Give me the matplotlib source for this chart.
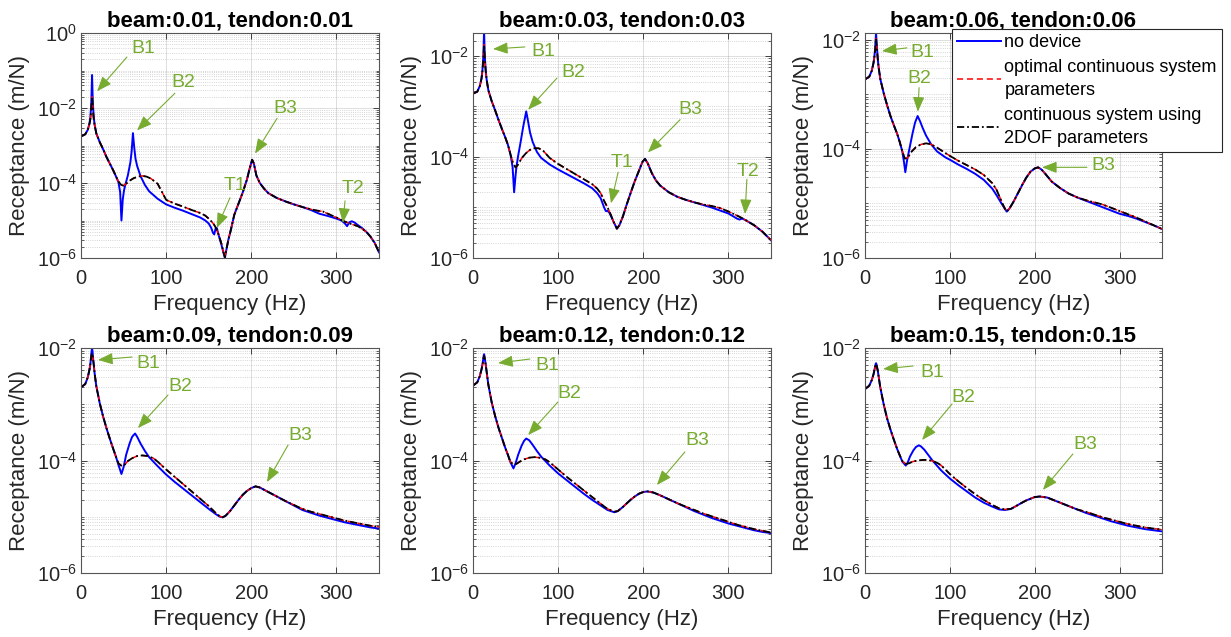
import numpy as np
import matplotlib
matplotlib.use('Agg')
import matplotlib.pyplot as plt
from matplotlib.ticker import FixedLocator, NullFormatter, LogFormatterSciNotation

plt.rcParams['font.family'] = ['Liberation Sans', 'DejaVu Sans']
plt.rcParams['mathtext.fontset'] = 'custom'
plt.rcParams['mathtext.rm'] = 'Liberation Sans'
plt.rcParams['mathtext.it'] = 'Liberation Sans:italic'
plt.rcParams['mathtext.bf'] = 'Liberation Sans:bold'

# ---------------- DATA (log10 of receptance, m/N) ----------------
titles = ['beam:0.01, tendon:0.01', 'beam:0.03, tendon:0.03', 'beam:0.06, tendon:0.06',
          'beam:0.09, tendon:0.09', 'beam:0.12, tendon:0.12', 'beam:0.15, tendon:0.15']
legend_labels = ['no device', 'optimal continuous system\nparameters',
                 'continuous system using\n2DOF parameters']

# Panel 1
p1_blue_f = [0, 5, 8, 10, 11, 12, 12.5, 13, 13.5, 14, 15, 16, 18, 22, 26, 30, 34, 38, 41, 44, 46, 47.5, 49,
             50.5, 52, 55, 58, 59.5, 61, 62.5, 64, 66, 70, 75, 80, 90, 100, 110, 120, 130, 140, 146, 150, 153,
             155, 156.5, 158, 159.5, 161, 163, 165, 167, 169, 171, 173, 176, 180, 185, 190, 195, 198, 201, 203,
             206, 210, 215, 220, 230, 240, 250, 260, 270, 280, 290, 300, 306, 310, 312.5, 315, 318, 321, 325,
             330, 335, 340, 345, 350]
p1_blue_log = [-2.76, -2.70, -2.58, -2.40, -2.25, -1.90, -1.55, -1.12, -1.55, -1.90, -2.25, -2.45, -2.68, -2.91,
               -3.10, -3.31, -3.49, -3.67, -3.82, -3.98, -4.25, -5.00, -4.45, -4.20, -4.05, -3.80, -3.45, -3.15,
               -2.67, -3.05, -3.35, -3.55, -3.82, -4.05, -4.22, -4.42, -4.57, -4.66, -4.74, -4.83, -4.92, -5.00,
               -5.08, -5.20, -5.33, -5.37, -5.22, -5.20, -5.33, -5.50, -5.65, -5.83, -6.00, -5.75, -5.52, -5.25,
               -4.85, -4.55, -4.25, -3.90, -3.62, -3.38, -3.48, -3.80, -4.00, -4.15, -4.27, -4.40, -4.49, -4.57,
               -4.64, -4.72, -4.82, -4.88, -4.95, -5.00, -5.08, -5.15, -5.05, -5.02, -5.05, -5.12, -5.20, -5.30,
               -5.43, -5.60, -5.85]
p1_dof_f = [0, 5, 8, 10, 11, 12, 12.5, 13, 13.5, 14, 15, 16, 18, 22, 26, 30, 34, 38, 41, 44, 47, 50, 53, 57, 62,
            67, 72, 77, 82, 90, 100, 110, 120, 130, 140, 146, 150, 153, 156, 159, 162, 165, 167, 169, 171, 173,
            176, 180, 185, 190, 195, 198, 201, 203, 206, 210, 215, 220, 230, 240, 250, 260, 270, 278, 284, 290,
            300, 310, 318, 325, 330, 335, 340, 345, 350]
p1_dof_log = [-2.76, -2.70, -2.58, -2.42, -2.30, -2.05, -1.85, -1.70, -1.85, -2.05, -2.30, -2.45, -2.68, -2.91,
              -3.10, -3.31, -3.49, -3.67, -3.82, -3.96, -4.05, -4.07, -4.02, -3.94, -3.87, -3.83, -3.81, -3.83,
              -3.88, -4.02, -4.45, -4.55, -4.63, -4.72, -4.80, -4.87, -4.95, -5.02, -5.10, -5.22, -5.40, -5.62,
              -5.82, -5.98, -5.75, -5.52, -5.25, -4.85, -4.55, -4.25, -3.90, -3.62, -3.38, -3.48, -3.80, -4.00,
              -4.15, -4.27, -4.40, -4.49, -4.57, -4.64, -4.70, -4.74, -4.76, -4.82, -4.92, -5.03, -5.10, -5.15,
              -5.22, -5.30, -5.43, -5.60, -5.85]

# Panel 2
p2_blue_f = [0, 5, 8, 10, 11, 12, 12.5, 13, 13.5, 14, 15, 16, 18, 22, 26, 30, 34, 38, 41, 44, 46.5, 48.3, 49.8,
             51, 53, 56, 59, 62.5, 64.5, 67, 70, 75, 80, 90, 100, 110, 120, 130, 140, 146, 150, 154, 156, 158,
             160, 162, 165, 169, 172, 176, 180, 185, 190, 195, 199, 202, 205, 210, 215, 220, 230, 240, 250, 260,
             270, 280, 290, 300, 306, 310, 313, 316, 320, 325, 330, 340, 350]
p2_blue_log = [-2.75, -2.71, -2.60, -2.45, -2.30, -2.05, -1.80, -1.50, -1.80, -2.05, -2.30, -2.47, -2.68, -2.90,
               -3.08, -3.27, -3.45, -3.62, -3.76, -3.95, -4.20, -4.70, -4.40, -4.20, -3.98, -3.70, -3.40, -3.10,
               -3.28, -3.52, -3.70, -3.90, -4.02, -4.15, -4.25, -4.34, -4.43, -4.52, -4.62, -4.72, -4.82, -5.00,
               -5.07, -5.07, -5.10, -5.17, -5.28, -5.42, -5.35, -5.18, -4.97, -4.72, -4.48, -4.27, -4.10, -4.04,
               -4.12, -4.32, -4.47, -4.57, -4.70, -4.79, -4.85, -4.90, -4.95, -5.00, -5.06, -5.12, -5.18, -5.22,
               -5.24, -5.22, -5.25, -5.30, -5.35, -5.48, -5.65]
p2_dof_f = [0, 5, 8, 10, 11, 12, 12.5, 13, 13.5, 14, 15, 16, 18, 22, 26, 30, 34, 38, 41, 44, 47, 50, 53, 57, 62,
            67, 72, 77, 82, 90, 100, 110, 120, 130, 140, 146, 150, 154, 158, 162, 165, 169, 172, 176, 180, 185,
            190, 195, 199, 202, 205, 210, 215, 220, 230, 240, 250, 260, 270, 280, 290, 300, 310, 316, 320, 325,
            330, 340, 350]
p2_dof_log = [-2.75, -2.71, -2.60, -2.45, -2.32, -2.10, -1.95, -1.78, -1.95, -2.10, -2.33, -2.47, -2.68, -2.90,
              -3.08, -3.27, -3.45, -3.62, -3.76, -3.95, -4.12, -4.21, -4.15, -4.03, -3.93, -3.86, -3.83, -3.83,
              -3.87, -4.02, -4.14, -4.24, -4.34, -4.44, -4.54, -4.63, -4.72, -4.87, -5.00, -5.15, -5.28, -5.42,
              -5.35, -5.18, -4.97, -4.72, -4.48, -4.27, -4.10, -4.04, -4.12, -4.32, -4.47, -4.57, -4.70, -4.79,
              -4.85, -4.90, -4.94, -4.97, -5.01, -5.08, -5.16, -5.21, -5.25, -5.30, -5.35, -5.48, -5.65]

# Panel 3
p3_blue_f = [0, 5, 8, 10, 11, 12, 12.5, 13, 13.5, 14, 15, 16, 18, 22, 26, 30, 34, 38, 41, 44, 46, 47.5, 49.5, 53,
             56, 59, 62, 65, 68, 72, 78, 85, 95, 100, 110, 120, 130, 140, 150, 155, 160, 164, 167, 170, 175, 180,
             185, 190, 195, 200, 204, 208, 212, 220, 230, 240, 250, 260, 270, 280, 290, 300, 310, 320, 330, 340,
             350]
p3_blue_log = [-2.73, -2.68, -2.57, -2.43, -2.32, -2.15, -2.00, -1.88, -2.00, -2.12, -2.35, -2.50, -2.72, -2.98,
               -3.20, -3.40, -3.57, -3.73, -3.88, -4.05, -4.25, -4.43, -4.22, -3.95, -3.72, -3.52, -3.40, -3.50,
               -3.62, -3.76, -3.92, -4.05, -4.16, -4.20, -4.29, -4.37, -4.46, -4.57, -4.73, -4.85, -4.98, -5.08,
               -5.15, -5.10, -4.97, -4.82, -4.67, -4.53, -4.42, -4.36, -4.34, -4.38, -4.45, -4.60, -4.72, -4.82,
               -4.89, -4.95, -5.01, -5.07, -5.13, -5.19, -5.23, -5.28, -5.34, -5.40, -5.47]
p3_dof_f = [0, 5, 8, 10, 11, 12, 12.5, 13, 13.5, 14, 15, 16, 18, 22, 26, 30, 34, 38, 41, 44, 47, 50, 55, 60, 66,
            72, 78, 85, 90, 100, 110, 120, 130, 140, 150, 155, 160, 164, 167, 170, 175, 180, 185, 190, 195, 200,
            204, 208, 212, 220, 230, 240, 250, 260, 270, 280, 290, 300, 310, 320, 330, 340, 350]
p3_dof_log = [-2.73, -2.68, -2.57, -2.43, -2.33, -2.18, -2.08, -1.98, -2.08, -2.16, -2.35, -2.50, -2.72, -2.98,
              -3.20, -3.40, -3.57, -3.73, -3.88, -4.05, -4.18, -4.17, -4.05, -3.97, -3.92, -3.90, -3.92, -3.98,
              -4.03, -4.13, -4.22, -4.30, -4.38, -4.48, -4.63, -4.75, -4.93, -5.07, -5.15, -5.10, -4.97, -4.82,
              -4.67, -4.53, -4.42, -4.36, -4.34, -4.38, -4.45, -4.60, -4.72, -4.82, -4.89, -4.94, -4.98, -5.02,
              -5.08, -5.14, -5.20, -5.26, -5.33, -5.40, -5.47]

# Panel 4
p4_blue_f = [0, 5, 8, 10, 11, 12, 12.5, 13, 13.5, 14, 15, 16, 18, 22, 26, 30, 34, 38, 41, 44, 47.5, 50, 53, 57,
             60, 63.5, 66, 70, 75, 80, 90, 100, 110, 120, 130, 140, 150, 158, 163, 166.5, 170, 175, 180, 185, 190,
             195, 200, 205, 210, 220, 230, 240, 250, 260, 270, 280, 290, 300, 310, 320, 330, 340, 350]
p4_blue_log = [-2.70, -2.64, -2.52, -2.38, -2.28, -2.12, -2.05, -2.01, -2.05, -2.15, -2.30, -2.45, -2.68, -2.98,
               -3.22, -3.43, -3.62, -3.80, -3.93, -4.08, -4.24, -4.12, -3.90, -3.70, -3.58, -3.52, -3.58, -3.70,
               -3.83, -3.94, -4.10, -4.25, -4.38, -4.50, -4.62, -4.74, -4.86, -4.95, -5.00, -5.01, -4.98, -4.90,
               -4.80, -4.70, -4.61, -4.54, -4.49, -4.46, -4.48, -4.56, -4.64, -4.72, -4.80, -4.88, -4.93, -4.98,
               -5.02, -5.06, -5.10, -5.13, -5.16, -5.19, -5.21]
p4_dof_f = [0, 5, 8, 10, 11, 12, 12.5, 13, 13.5, 14, 15, 16, 18, 22, 26, 30, 34, 38, 41, 44, 48, 51, 55, 60, 66,
            72, 78, 85, 90, 100, 110, 120, 130, 140, 150, 158, 163, 166.5, 170, 175, 180, 185, 190, 195, 200, 205,
            210, 220, 230, 240, 250, 260, 270, 280, 290, 300, 310, 320, 330, 340, 350]
p4_dof_log = [-2.70, -2.64, -2.52, -2.38, -2.29, -2.16, -2.12, -2.09, -2.12, -2.18, -2.30, -2.45, -2.68, -2.98,
              -3.22, -3.43, -3.62, -3.80, -3.93, -4.05, -4.10, -4.08, -4.01, -3.96, -3.92, -3.91, -3.92, -3.96,
              -4.02, -4.16, -4.29, -4.42, -4.55, -4.68, -4.81, -4.93, -4.99, -5.01, -4.98, -4.90, -4.80, -4.70,
              -4.61, -4.54, -4.49, -4.46, -4.48, -4.56, -4.64, -4.72, -4.79, -4.86, -4.91, -4.95, -4.99, -5.03,
              -5.07, -5.10, -5.13, -5.16, -5.18]

# Panel 5
p5_blue_f = [0, 5, 8, 10, 11, 12, 12.5, 13, 13.5, 14, 15, 16, 18, 22, 26, 30, 34, 38, 41, 44, 47.5, 50, 53, 57,
             60, 62.5, 66, 70, 75, 80, 90, 100, 110, 120, 130, 140, 150, 158, 166, 170, 175, 180, 185, 190, 195,
             200, 205, 212, 220, 230, 240, 250, 260, 270, 280, 290, 300, 310, 320, 330, 340, 350]
p5_blue_log = [-2.67, -2.61, -2.50, -2.38, -2.30, -2.20, -2.14, -2.11, -2.14, -2.20, -2.30, -2.42, -2.65, -2.97,
               -3.21, -3.42, -3.60, -3.78, -3.90, -4.03, -4.14, -4.05, -3.90, -3.74, -3.65, -3.61, -3.64, -3.72,
               -3.83, -3.93, -4.09, -4.23, -4.35, -4.47, -4.59, -4.70, -4.80, -4.88, -4.92, -4.90, -4.84, -4.77,
               -4.70, -4.64, -4.59, -4.56, -4.55, -4.57, -4.62, -4.69, -4.76, -4.83, -4.90, -4.96, -5.02, -5.07,
               -5.12, -5.16, -5.20, -5.24, -5.27, -5.29]
p5_dof_f = [0, 5, 8, 10, 11, 12, 12.5, 13, 13.5, 14, 15, 16, 18, 22, 26, 30, 34, 38, 41, 44, 48, 51, 55, 60, 66,
            72, 78, 85, 90, 100, 110, 120, 130, 140, 150, 158, 166, 170, 175, 180, 185, 190, 195, 200, 205, 212,
            220, 230, 240, 250, 260, 270, 280, 290, 300, 310, 320, 330, 340, 350]
p5_dof_log = [-2.67, -2.61, -2.50, -2.38, -2.31, -2.22, -2.17, -2.14, -2.17, -2.22, -2.30, -2.42, -2.65, -2.97,
              -3.21, -3.42, -3.60, -3.78, -3.90, -4.03, -4.07, -4.06, -4.02, -3.98, -3.95, -3.94, -3.95, -3.98,
              -4.03, -4.16, -4.29, -4.41, -4.53, -4.65, -4.77, -4.86, -4.91, -4.90, -4.84, -4.77, -4.70, -4.64,
              -4.59, -4.56, -4.55, -4.57, -4.62, -4.69, -4.76, -4.82, -4.88, -4.94, -4.99, -5.04, -5.09, -5.14,
              -5.18, -5.22, -5.25, -5.28]

# Panel 6
p6_blue_f = [0, 5, 8, 10, 11, 12, 12.5, 13, 13.5, 14, 15, 16, 18, 22, 26, 30, 34, 38, 41, 44, 48, 50, 53, 57, 60,
             63.5, 66, 70, 75, 80, 90, 100, 110, 120, 130, 140, 150, 158, 165, 172, 178, 185, 190, 195, 200, 206,
             215, 220, 230, 240, 250, 260, 270, 280, 290, 300, 310, 320, 330, 340, 350]
p6_blue_log = [-2.73, -2.67, -2.57, -2.47, -2.40, -2.32, -2.29, -2.27, -2.29, -2.32, -2.40, -2.50, -2.70, -3.00,
               -3.25, -3.45, -3.63, -3.80, -3.91, -4.02, -4.09, -4.05, -3.93, -3.82, -3.76, -3.73, -3.75, -3.81,
               -3.91, -4.01, -4.18, -4.32, -4.44, -4.55, -4.66, -4.75, -4.82, -4.87, -4.88, -4.86, -4.81, -4.75,
               -4.71, -4.68, -4.65, -4.64, -4.66, -4.69, -4.75, -4.81, -4.87, -4.93, -4.98, -5.03, -5.08, -5.12,
               -5.16, -5.19, -5.22, -5.24, -5.26]
p6_dof_f = [0, 5, 8, 10, 11, 12, 12.5, 13, 13.5, 14, 15, 16, 18, 22, 26, 30, 34, 38, 41, 44, 48, 52, 56, 62, 68,
            74, 80, 86, 90, 100, 110, 120, 130, 140, 150, 158, 165, 172, 178, 185, 190, 195, 200, 206, 215, 220,
            230, 240, 250, 260, 270, 280, 290, 300, 310, 320, 330, 340, 350]
p6_dof_log = [-2.73, -2.67, -2.57, -2.47, -2.40, -2.33, -2.30, -2.28, -2.30, -2.33, -2.40, -2.50, -2.70, -3.00,
              -3.25, -3.45, -3.63, -3.80, -3.91, -4.01, -4.06, -4.05, -4.02, -4.00, -3.99, -3.99, -4.01, -4.05,
              -4.09, -4.24, -4.37, -4.49, -4.60, -4.70, -4.79, -4.85, -4.87, -4.86, -4.81, -4.75, -4.71, -4.68,
              -4.65, -4.64, -4.66, -4.69, -4.75, -4.81, -4.87, -4.91, -4.96, -5.01, -5.05, -5.09, -5.13, -5.16,
              -5.19, -5.21, -5.23]

# the optimal-continuous (red dashed) curve coincides with the 2DOF curve at this resolution
blue_f = [p1_blue_f, p2_blue_f, p3_blue_f, p4_blue_f, p5_blue_f, p6_blue_f]
blue_log = [p1_blue_log, p2_blue_log, p3_blue_log, p4_blue_log, p5_blue_log, p6_blue_log]
dof_f = [p1_dof_f, p2_dof_f, p3_dof_f, p4_dof_f, p5_dof_f, p6_dof_f]
dof_log = [p1_dof_log, p2_dof_log, p3_dof_log, p4_dof_log, p5_dof_log, p6_dof_log]
red_f = dof_f
red_log = dof_log

# ---------------- LAYOUT ----------------
W, H = 1231, 637
GREEN = '#77AC30'
ylim_top_log = [0.0, -1.55, -1.88, -2.0, -2.0, -2.0]
axes_px = [(81, 33, 379, 258), (473, 33, 771, 258), (865, 33, 1162, 258),
           (81, 348, 379, 573), (473, 348, 771, 573), (865, 348, 1162, 573)]

# annotations: (label, label_xy, arrow_tail, arrow_tip) in axes fraction
annots = [
    [('B1', (0.208, 0.933), (0.154, 0.893), (0.054, 0.741)),
     ('B2', (0.342, 0.781), (0.315, 0.732), (0.188, 0.567)),
     ('B3', (0.685, 0.665), (0.658, 0.621), (0.584, 0.464)),
     ('T1', (0.517, 0.321), (0.500, 0.268), (0.456, 0.134)),
     ('T2', (0.913, 0.308), (0.886, 0.254), (0.879, 0.156))],
    [('B1', (0.235, 0.916), (0.174, 0.938), (0.067, 0.929)),
     ('B2', (0.336, 0.823), (0.282, 0.800), (0.185, 0.659)),
     ('B3', (0.728, 0.659), (0.695, 0.615), (0.587, 0.469)),
     ('T1', (0.500, 0.425), (0.487, 0.381), (0.463, 0.243)),
     ('T2', (0.923, 0.385), (0.919, 0.350), (0.913, 0.195))],
    [('B1', (0.192, 0.912), (0.141, 0.934), (0.057, 0.920)),
     ('B2', (0.182, 0.796), (0.182, 0.757), (0.178, 0.650)),
     ('B3', (0.801, 0.410), (0.747, 0.403), (0.596, 0.403))],
    [('B1', (0.225, 0.933), (0.171, 0.960), (0.057, 0.947)),
     ('B2', (0.332, 0.827), (0.292, 0.791), (0.191, 0.644)),
     ('B3', (0.735, 0.609), (0.695, 0.569), (0.624, 0.404))],
    [('B1', (0.248, 0.920), (0.191, 0.951), (0.084, 0.933)),
     ('B2', (0.322, 0.800), (0.285, 0.760), (0.185, 0.613)),
     ('B3', (0.752, 0.587), (0.711, 0.538), (0.617, 0.391))],
    [('B1', (0.226, 0.893), (0.162, 0.920), (0.061, 0.907)),
     ('B2', (0.330, 0.782), (0.293, 0.751), (0.192, 0.591)),
     ('B3', (0.741, 0.573), (0.700, 0.529), (0.599, 0.369))],
]

fig = plt.figure(figsize=(W / 100, H / 100), dpi=100)

major = [1e-6, 1e-4, 1e-2, 1e0]
minor = [n * 10.0 ** k for k in range(-6, 0) for n in range(1, 10) if not (n == 1 and k in (-6, -4, -2))]

handles = None
for i in range(6):
    l, t, r, b = axes_px[i]
    ax = fig.add_axes([l / W, 1 - b / H, (r - l) / W, (b - t) / H])
    ax.set_yscale('log')
    bf = np.array(blue_f[i]); bl = 10.0 ** np.array(blue_log[i])
    df = np.array(dof_f[i]); dl = 10.0 ** np.array(dof_log[i])
    rf = np.array(red_f[i]); rl = 10.0 ** np.array(red_log[i])
    h1, = ax.plot(bf, bl, color='#0000FF', lw=1.4, solid_joinstyle='round')
    h2, = ax.plot(rf, rl, color='#FF0000', lw=1.1, dashes=(4, 2.5))
    h3, = ax.plot(df, dl, color='black', lw=1.3, dashes=(4, 1.6, 1, 1.6))
    if handles is None:
        handles = [h1, h2, h3]
    ax.set_xlim(0, 350)
    ax.set_ylim(1e-6, 10.0 ** ylim_top_log[i])
    ax.set_xticks([0, 100, 200, 300])
    ax.yaxis.set_major_locator(FixedLocator(major))
    ax.yaxis.set_major_formatter(LogFormatterSciNotation())
    ax.yaxis.set_minor_locator(FixedLocator(minor))
    ax.yaxis.set_minor_formatter(NullFormatter())
    ax.tick_params(axis='both', which='both', direction='in', top=True, right=True,
                   labelsize=14.5, colors='#262626')
    ax.tick_params(axis='x', which='major', pad=8)
    ax.tick_params(axis='y', which='major', pad=3)
    ax.tick_params(which='major', length=4, width=0.6)
    ax.tick_params(which='minor', length=2, width=0.5)
    ax.grid(True, which='major', color='#262626', alpha=0.15, lw=0.7)
    ax.grid(True, which='minor', axis='y', color='#262626', alpha=0.25, lw=0.6, ls=':')
    for s in ax.spines.values():
        s.set_color('#555555')
        s.set_linewidth(0.8)
    ax.set_xlabel('Frequency (Hz)', fontsize=16, color='#262626', labelpad=4)
    ax.set_ylabel('Receptance (m/N)', fontsize=16, color='#262626', labelpad=5)
    ax.set_title(titles[i], fontsize=16, fontweight='bold', pad=5)
    for lab, lxy, tail, tip in annots[i]:
        ax.annotate('', xy=tip, xytext=tail, xycoords='axes fraction', textcoords='axes fraction',
                    arrowprops=dict(arrowstyle='-|>,head_length=0.9,head_width=0.35', color=GREEN,
                                    lw=0.8, mutation_scale=10, shrinkA=0, shrinkB=0))
        ax.text(lxy[0], lxy[1], lab, transform=ax.transAxes, ha='center', va='center',
                fontsize=14, color=GREEN)

leg = fig.legend(handles, legend_labels, loc='upper left',
                 bbox_to_anchor=(952 / W, 1 - 29 / H), bbox_transform=fig.transFigure,
                 fontsize=13, frameon=True, fancybox=False, edgecolor='#262626', framealpha=1,
                 handlelength=2.4, handletextpad=0.2, borderpad=0.3, labelspacing=0.42,
                 borderaxespad=0)
leg.get_frame().set_linewidth(0.8)
for tx in leg.get_texts():
    tx.set_linespacing(1.48)

fig.savefig('out.png', dpi=100)
